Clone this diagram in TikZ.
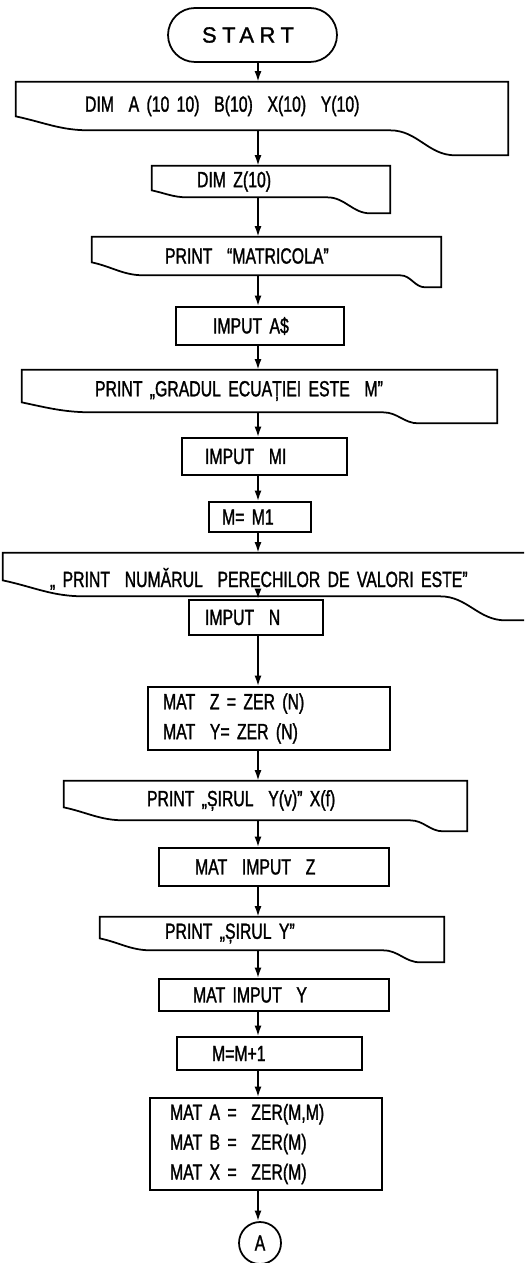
\documentclass[tikz,border=0pt]{standalone}
\usepackage{fontspec}
\setmainfont{Liberation Sans}[FakeStretch=0.72,FakeBold=1.3]
\newfontfamily\startfont{Liberation Sans}[LetterSpace=25,FakeBold=1.3]
\usetikzlibrary{arrows.meta,calc}

\begin{document}
\begin{tikzpicture}[x=0.02cm,y=-0.02cm,
  font=\fontsize{12.5}{17}\selectfont,
  every node/.style={inner ysep=0pt},
  stepbox/.style={draw,line width=1pt,align=left},
  docbox/.style n args={4}{align=left,append after command={\pgfextra{
    \draw[line width=1pt] (\tikzlastnode.north west)
      -- ($(\tikzlastnode.south west)+(0cm,#1)$)
      to[out=-12,in=180] ($(\tikzlastnode.south west)!0.15!(\tikzlastnode.south east)$)
      -- ($(\tikzlastnode.south east)+(-#3-#4,0cm)$)
      to[out=0,in=180] ($(\tikzlastnode.south east)+(-#3,-#2)$)
      -- ($(\tikzlastnode.south east)+(0cm,-#2)$)
      -- (\tikzlastnode.north east) -- cycle;}}},
  arr/.style={-{Latex[length=6pt,width=4pt]},line width=1pt}]
\useasboundingbox (0,0) rectangle (524,1263);
\clip (0,0) rectangle (524,1263);
\coordinate (sp) at (258,0);
\node[stepbox,rounded corners=0.54cm,minimum height=1.08cm,inner xsep=0.68cm,text width=2.02cm] (start) at (252.5,35) {\startfont START};
\node[docbox={0.28cm}{0.5cm}{1.06cm}{1.3cm},minimum height=0.96cm,inner xsep=1.38cm,text width=7.08cm] (dimA) at (262,106) {DIM\ \ A (10 10)\ \ B(10)\ \ X(10)\ \ Y(10)};
\node[docbox={0.14cm}{0.32cm}{0.4cm}{0.86cm},minimum height=0.62cm,inner xsep=0.9cm,text width=2.96cm] (dimZ) at (271,181.5) {DIM\ Z(10)};
\node[docbox={0.26cm}{0.24cm}{0.32cm}{0.5cm},minimum height=0.76cm,inner xsep=1.46cm,text width=4.06cm] (mat) at (266.5,256) {PRINT\ \ “MATRICOLA”};
\node[stepbox,minimum height=0.76cm,inner xsep=0.74cm,text width=1.88cm] (inA) at (260,326) {IMPUT A\$};
\node[docbox={0.2cm}{0.22cm}{1.58cm}{0.7cm},minimum height=0.84cm,inner xsep=1.46cm,text width=6.58cm] (grad) at (259.5,391) {PRINT „GRADUL ECUAȚIEI ESTE\ \ M”};
\node[stepbox,minimum height=0.74cm,inner xsep=0.46cm,text width=2.38cm] (inM) at (264.5,456.5) {IMPUT\ \ MI};
\node[stepbox,minimum height=0.6cm,inner xsep=0.26cm,text width=1.52cm] (mEq) at (260,517) {M= M1};
\node[docbox={0.32cm}{0.48cm}{0.8cm}{1.3cm},minimum height=0.86cm,text height=0.68cm,text depth=0.18cm,inner xsep=0.94cm,text width=8.96cm] (nr) at (274,574.5) {„ PRINT\ \ NUMĂRUL\ \ PERECHILOR DE VALORI ESTE”};
\node[stepbox,minimum height=0.7cm,inner xsep=0.32cm,text width=2.04cm] (inN) at (256,617.5) {IMPUT\ \ N};
\node[stepbox,minimum height=1.26cm,inner xsep=0.3cm,text width=4.24cm] (matZ) at (269,718.5) {MAT\ \ Z = ZER (N)\\MAT\ \ Y= ZER (N)};
\node[docbox={0.26cm}{0.22cm}{0.48cm}{0.66cm},minimum height=0.78cm,inner xsep=1.66cm,text width=4.74cm] (sirV) at (265.5,800.5) {PRINT „ȘIRUL\ \ Y(v)” X(f)};
\node[stepbox,minimum height=0.76cm,inner xsep=0.72cm,text width=3.16cm] (inZ) at (274,867) {MAT\ \ IMPUT\ \ Z};
\node[docbox={0.24cm}{0.24cm}{0.48cm}{0.74cm},minimum height=0.66cm,inner xsep=1.3cm,text width=4.28cm] (sirY) at (272,933.5) {PRINT „ȘIRUL Y”};
\node[stepbox,minimum height=0.64cm,inner xsep=0.68cm,text width=3.24cm] (inY) at (274,995) {MAT IMPUT\ \ Y};
\node[stepbox,minimum height=0.66cm,inner xsep=0.7cm,text width=2.3cm] (inc) at (269.5,1053.5) {M=M+1};
\node[stepbox,minimum height=1.84cm,inner xsep=0.4cm,text width=3.84cm] (matA) at (266,1144) {MAT A =\ \ ZER(M,M)\\MAT B =\ \ ZER(M)\\MAT X =\ \ ZER(M)};
\node[draw,circle,line width=1pt,minimum size=0.84cm,inner sep=0pt] (conA) at (260,1243) {A};
\draw[arr] (start.south -| sp) -- (dimA.north -| sp);
\draw[arr] (dimA.south -| sp) -- (dimZ.north -| sp);
\draw[arr] (dimZ.south -| sp) -- (mat.north -| sp);
\draw[arr] (mat.south -| sp) -- (inA.north -| sp);
\draw[arr] (inA.south -| sp) -- (grad.north -| sp);
\draw[arr] (grad.south -| sp) -- (inM.north -| sp);
\draw[arr] (inM.south -| sp) -- (mEq.north -| sp);
\draw[arr] (mEq.south -| sp) -- (nr.north -| sp);
\draw[arr] (nr.south -| sp) -- (inN.north -| sp);
\draw[arr] (inN.south -| sp) -- (matZ.north -| sp);
\draw[arr] (matZ.south -| sp) -- (sirV.north -| sp);
\draw[arr] (sirV.south -| sp) -- (inZ.north -| sp);
\draw[arr] (inZ.south -| sp) -- (sirY.north -| sp);
\draw[arr] (sirY.south -| sp) -- (inY.north -| sp);
\draw[arr] (inY.south -| sp) -- (inc.north -| sp);
\draw[arr] (inc.south -| sp) -- (matA.north -| sp);
\draw[arr] (matA.south -| sp) -- (conA.north -| sp);
\end{tikzpicture}
\end{document}
